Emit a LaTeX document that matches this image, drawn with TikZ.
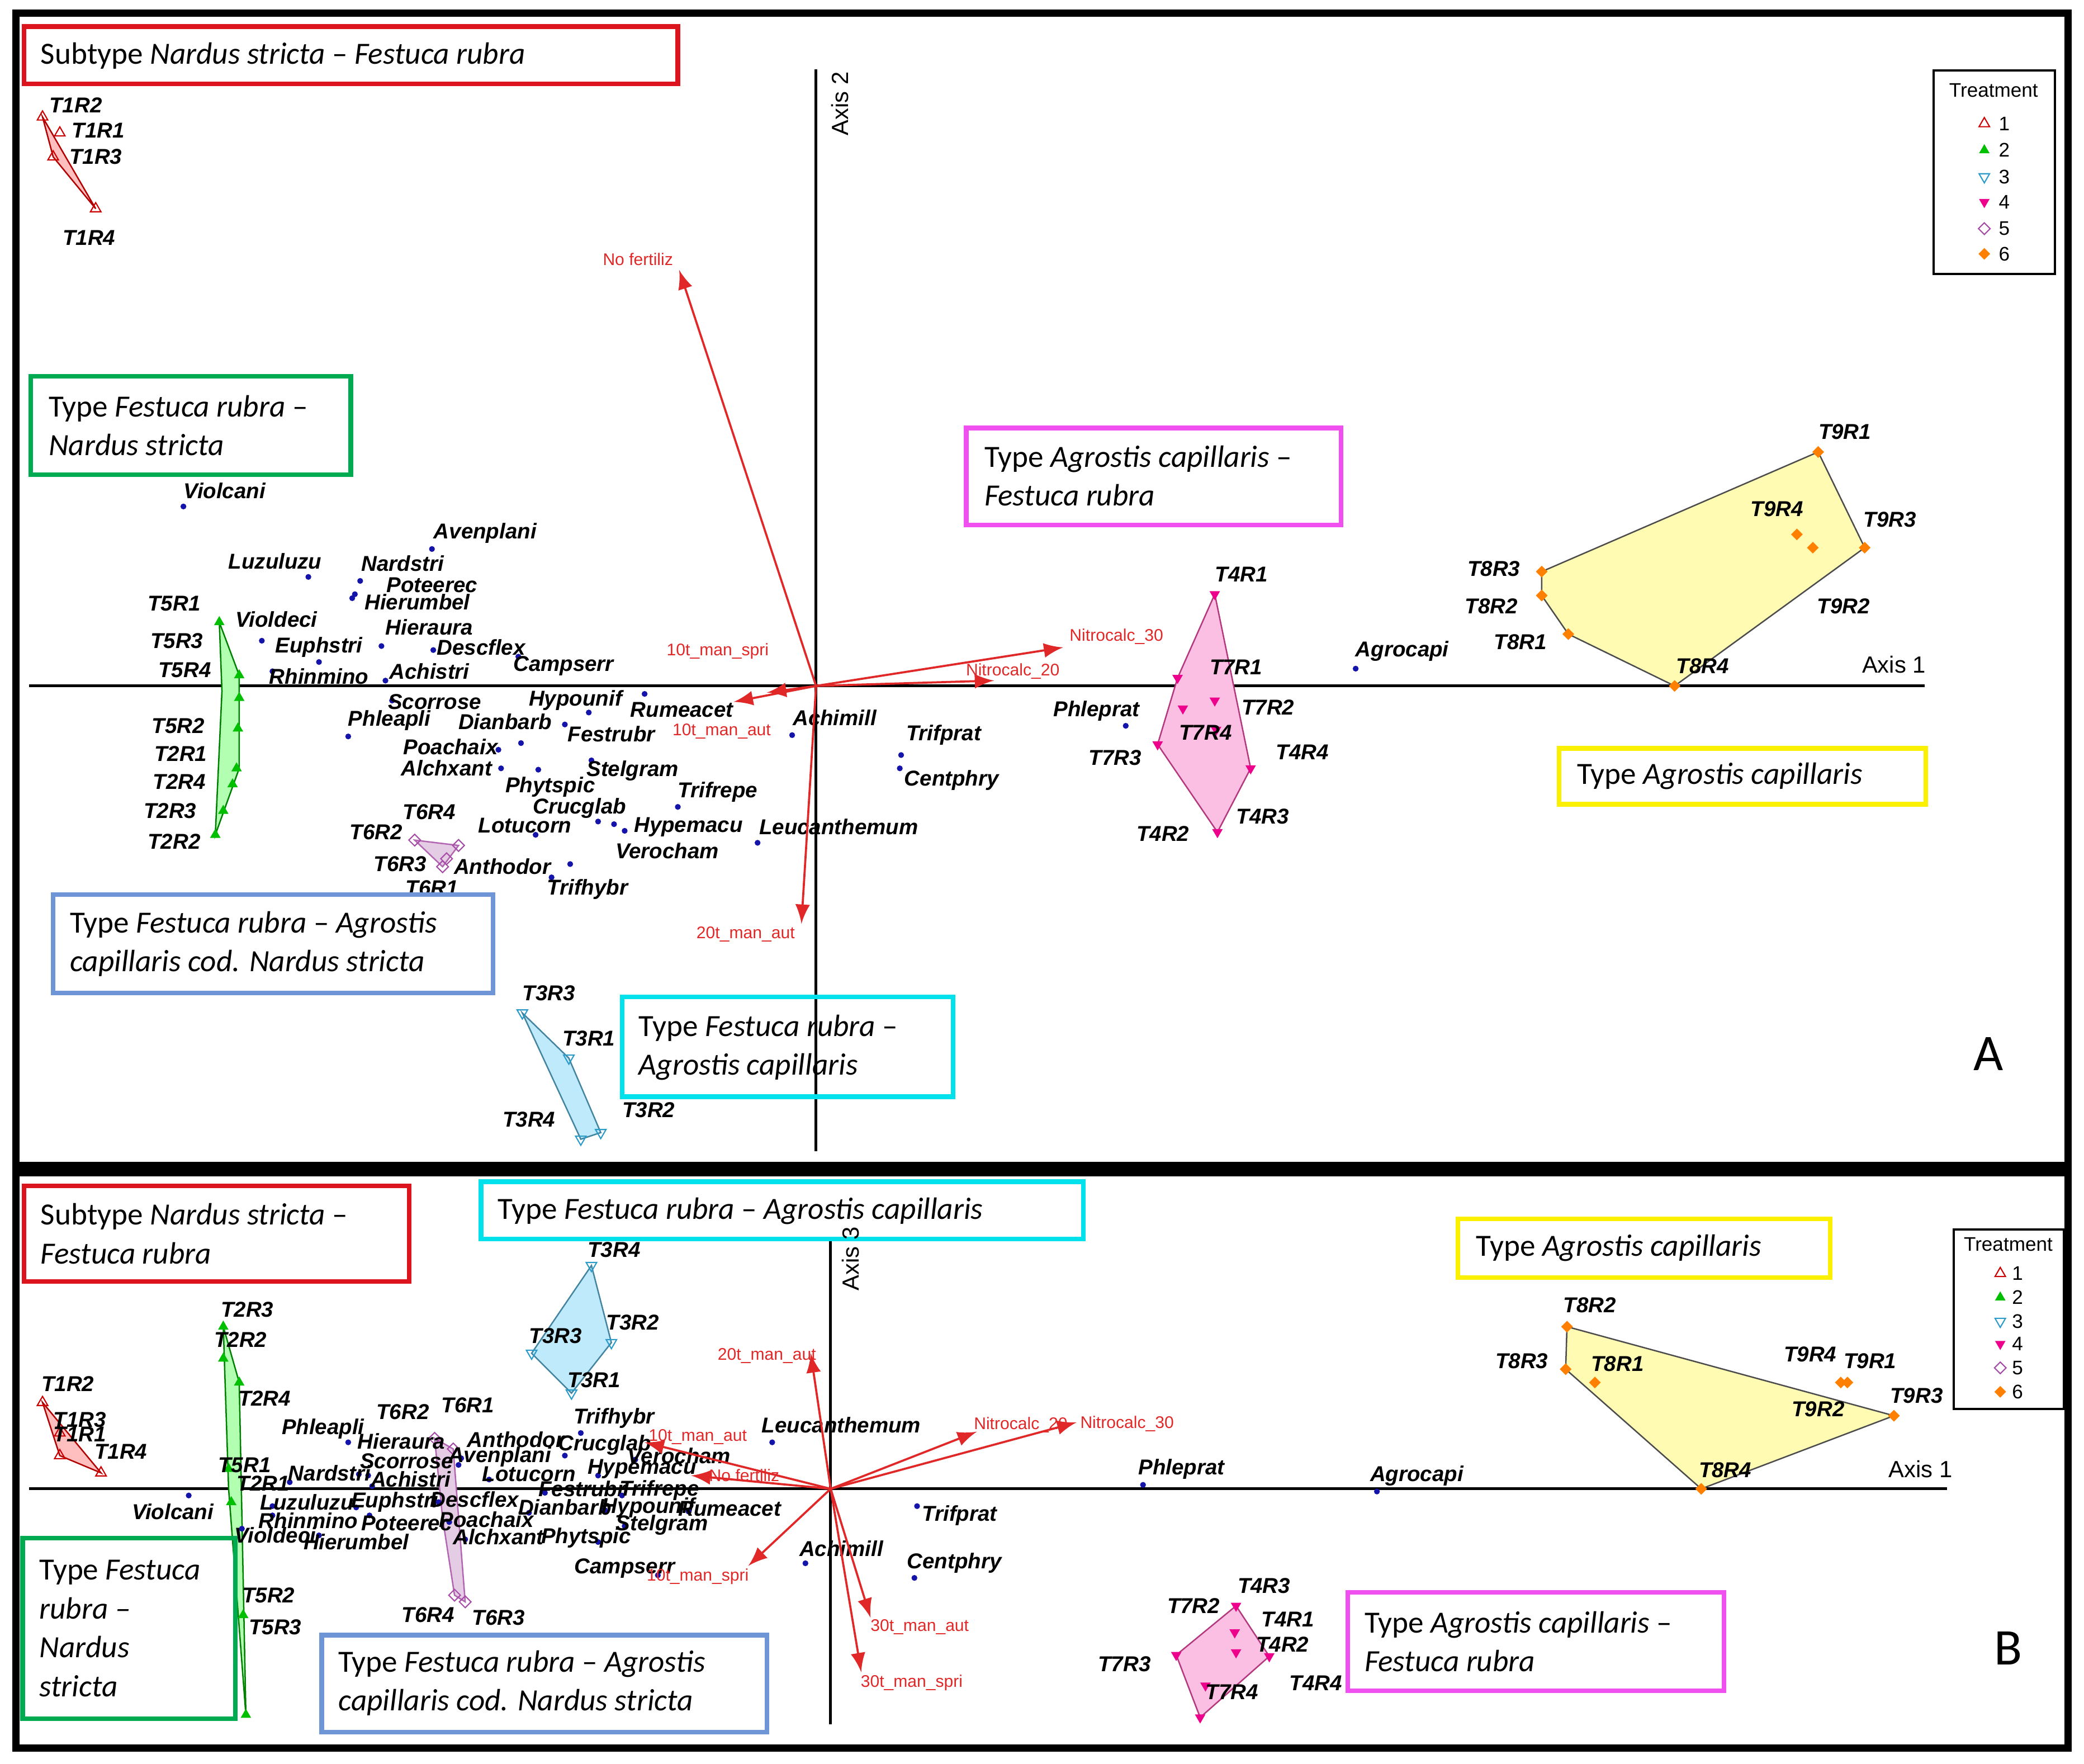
\documentclass[tikz,border=0pt]{standalone}
\usepackage{fontspec}
\setmainfont{Carlito}
\setsansfont{Liberation Sans}
\usetikzlibrary{shapes.geometric}
\definecolor{boxred}{RGB}{220,20,30}
\definecolor{boxgreen}{RGB}{0,170,80}
\definecolor{boxmag}{RGB}{240,80,240}
\definecolor{boxyel}{RGB}{250,240,0}
\definecolor{boxblue}{RGB}{110,150,215}
\definecolor{boxcyan}{RGB}{0,225,235}
\definecolor{dotblue}{RGB}{20,20,170}
\definecolor{vecred}{RGB}{225,40,40}
\tikzset{
  sp/.style={font=\sffamily\bfseries\itshape\fontsize{4.6}{5}\selectfont, inner sep=0.5pt},
  vl/.style={font=\sffamily\fontsize{3.6}{4}\selectfont, text=vecred, inner sep=0.5pt},
  arr/.style={vecred, line width=0.45pt, -latex},
  tbox/.style={line width=1pt, fill=white, draw=#1},
  btxt/.style={font=\fontsize{6.6}{8.3}\selectfont, align=left, anchor=west, inner sep=0},
  mk/.style={inner sep=0, minimum size=2.6pt, line width=0.25pt},
  m1/.style={mk, regular polygon, regular polygon sides=3, draw=red!80!black},
  m2/.style={mk, regular polygon, regular polygon sides=3, fill=green!75!black},
  m3/.style={mk, regular polygon, regular polygon sides=3, shape border rotate=180, draw=cyan!80!black},
  m4/.style={mk, regular polygon, regular polygon sides=3, shape border rotate=180, fill=magenta},
  m5/.style={mk, diamond, draw=violet!70},
  m6/.style={mk, diamond, fill=orange},
  leg/.style={font=\sffamily\fontsize{4.2}{5}\selectfont, inner sep=0.3pt},
}
\begin{document}
\begin{tikzpicture}[x=0.01cm, y=-0.01cm]
\useasboundingbox (0,0) rectangle (1568,1327);

% panel frames
\draw[line width=1.6pt] (12,10) rectangle (1556,877);
\draw[line width=1.6pt] (12,882) rectangle (1556,1315);

% ---------------- panel A ----------------
\coordinate (oA) at (614,516);
\draw[line width=0.6pt] (22,516) -- (1448,516);
\draw[line width=0.6pt] (614,52) -- (614,866);
\node[leg, rotate=90, font=\sffamily\fontsize{5}{6}\selectfont] (ax2) at (632,78) {Axis 2};
\node[leg, font=\sffamily\fontsize{5}{6}\selectfont] (ax1a) at (1425,500) {Axis 1};

% groups
\filldraw[fill=red!25, draw=red!70!black, line width=0.3pt] (32,88) -- (40,118) -- (72,157) -- cycle;
\foreach \p [count=\i] in {(32,88),(45,100),(40,118),(72,157)} \node[m1] (a1-\i) at \p {};
\filldraw[fill=green!30, draw=green!50!black, line width=0.3pt] (165,468) -- (180,508) -- (180,578) -- (162,628) -- (167,520) -- cycle;
\foreach \p [count=\i] in {(165,468),(180,508),(180,525),(179,548),(178,578),(175,590),(168,610),(162,628)} \node[m2] (a2-\i) at \p {};
\filldraw[fill=violet!20, draw=violet!60, line width=0.3pt] (312,632) -- (345,636) -- (333,652) -- cycle;
\foreach \p [count=\i] in {(312,632),(345,636),(333,652),(336,646)} \node[m5] (a5-\i) at \p {};
\filldraw[fill=cyan!25, draw=cyan!60!black, line width=0.3pt] (393,762) -- (428,796) -- (452,852) -- (437,857) -- cycle;
\foreach \p [count=\i] in {(393,762),(428,796),(452,852),(437,857)} \node[m3] (a3-\i) at \p {};
\filldraw[fill=magenta!25, draw=magenta!70!black, line width=0.3pt] (914,447) -- (941,578) -- (916,626) -- (871,560) -- (886,510) -- cycle;
\foreach \p [count=\i] in {(914,447),(886,510),(914,527),(890,533),(941,578),(916,626),(871,560),(915,549)} \node[m4] (a4-\i) at \p {};
\filldraw[fill=yellow!30, draw=black!70, line width=0.3pt] (1368,340) -- (1403,412) -- (1260,516) -- (1180,477) -- (1160,448) -- (1160,430) -- cycle;
\foreach \p [count=\i] in {(1368,340),(1403,412),(1260,516),(1180,477),(1160,448),(1160,430),(1352,402),(1364,412)} \node[m6] (a6-\i) at \p {};

\foreach \t/\x/\y in {T1R2/57/79, T1R1/74/98, T1R3/72/118, T1R4/67/179,
  T5R1/131/454, T5R3/133/482, T5R4/139/504, T5R2/134/546, T2R1/136/567, T2R4/135/588, T2R3/128/610, T2R2/131/633,
  T6R4/323/611, T6R2/283/626, T6R3/301/650, T6R1/325/668,
  T3R3/413/747, T3R1/443/781, T3R4/398/842, T3R2/488/835,
  T4R1/934/432, T7R1/930/502, T7R2/954/532, T7R4/907/551, T4R4/980/566, T7R3/839/570, T4R3/950/614, T4R2/875/627,
  T9R1/1388/325, T9R4/1337/383, T9R3/1422/391, T9R2/1387/456, T8R3/1124/428, T8R2/1122/456, T8R1/1144/483, T8R4/1281/501}
  \node[sp] (a-\t) at (\x,\y) {\t};

% species
\foreach \t/\x/\y/\dx/\dy in {Violcani/169/369/138/381, Avenplani/365/401/325/413, Luzuluzu/207/422/232/434,
  Nardstri/303/424/271/437, Poteerec/325/440/267/447, Hierumbel/314/453/265/450, Violdeci/208/466/197/482,
  Hieraura/323/472/287/486, Euphstri/240/487/240/498, Descflex/362/487/326/489, Achistri/323/505/290/512,
  Rhinmino/240/509/205/505, Campserr/424/501/390/494, Scorrose/327/528/295/527, Hypounif/433/527/443/536,
  Rumeacet/513/534/485/522, Phleapli/293/542/262/554, Dianbarb/380/543/392/559, Festrubr/460/552/425/545,
  Achimill/628/540/596/553, Trifprat/710/553/678/568, Poachaix/339/562/375/564, Alchxant/336/578/377/578,
  Stelgram/476/580/445/572, Centphry/716/587/677/578, Phytspic/414/592/405/579, Trifrepe/540/596/510/607,
  Crucglab/436/608/450/618, Lotucorn/395/621/403/628, Hypemacu/518/622/470/625, Leucanthemum/631/622/570/634,
  Verocham/502/640/462/620, Anthodor/378/652/429/650, Trifhybr/442/669/415/660, Phleprat/825/535/847/546,
  Agrocapi/1055/490/1020/503}
  { \fill[dotblue] (\dx,\dy) circle (2.2); \node[sp] (sa-\t) at (\x,\y) {\t}; }

% vectors
\foreach \n/\x/\y in {nofA/511/203, spriA/552/528, autA/577/521, n30A/800/487, n20A/748/512, m20A/603/695}
  { \coordinate (\n) at (\x,\y); \draw[arr] (oA) -- (\n); }
\node[vl] (l-nofA) at (480,195) {No fertiliz};
\node[vl] (l-spriA) at (540,490) {10t\_man\_spri};
\node[vl] (l-autA) at (543,550) {10t\_man\_aut};
\node[vl] (l-n30A) at (840,479) {Nitrocalc\_30};
\node[vl] (l-n20A) at (762,505) {Nitrocalc\_20};
\node[vl] (l-m20A) at (561,703) {20t\_man\_aut};

% boxes A
\draw[tbox=boxred] (18,20) rectangle (510,63);
\node[btxt] (bA1) at (30,42) {Subtype \textit{Nardus stricta} – \textit{Festuca rubra}};
\draw[tbox=boxgreen] (23,283) rectangle (264,357);
\node[btxt] (bA2) at (36,320) {Type \textit{Festuca rubra} –\\\textit{Nardus stricta}};
\draw[tbox=boxmag] (727,322) rectangle (1009,395);
\node[btxt] (bA3) at (740,358) {Type \textit{Agrostis capillaris} –\\\textit{Festuca rubra}};
\draw[tbox=boxyel] (1173,563) rectangle (1449,605);
\node[btxt] (bA4) at (1186,584) {Type \textit{Agrostis capillaris}};
\draw[tbox=boxblue] (40,673) rectangle (371,747);
\node[btxt] (bA5) at (52,710) {Type \textit{Festuca rubra} – \textit{Agrostis}\\\textit{capillaris cod. Nardus stricta}};
\draw[line width=1pt, boxcyan] (468,750) rectangle (717,825);
\node[btxt] (bA6) at (480,788) {Type \textit{Festuca rubra} –\\\textit{Agrostis capillaris}};
\node[font=\fontsize{11}{12}\selectfont] (lblA) at (1496,793) {A};

% legend A
\draw[line width=0.5pt] (1455,53) rectangle (1546,206);
\node[leg] (tA) at (1500,68) {Treatment};
\foreach \m/\y [count=\i] in {m1/93, m2/113, m3/133, m4/152, m5/172, m6/191}
  { \node[\m] (ka\i) at (1493,\y) {}; \node[leg] (na\i) at (1508,\y) {\i}; }

% ---------------- panel B ----------------
\coordinate (oB) at (625,1120);
\draw[line width=0.6pt] (22,1120) -- (1465,1120);
\draw[line width=0.6pt] (625,925) -- (625,1297);

\filldraw[fill=red!25, draw=red!70!black, line width=0.3pt] (32,1055) -- (76,1108) -- (45,1095) -- cycle;
\foreach \p [count=\i] in {(32,1055),(45,1078),(76,1108),(45,1095)} \node[m1] (b1-\i) at \p {};
\filldraw[fill=green!30, draw=green!50!black, line width=0.3pt] (168,998) -- (180,1040) -- (185,1290) -- (172,1120) -- cycle;
\foreach \p [count=\i] in {(168,998),(168,1022),(180,1040),(172,1105),(174,1130),(183,1215),(185,1290)} \node[m2] (b2-\i) at \p {};
\filldraw[fill=violet!20, draw=violet!60, line width=0.3pt] (327,1082) -- (341,1090) -- (350,1205) -- (342,1200) -- (333,1142) -- cycle;
\foreach \p [count=\i] in {(327,1082),(341,1090),(350,1205),(342,1200)} \node[m5] (b5-\i) at \p {};
\filldraw[fill=cyan!25, draw=cyan!60!black, line width=0.3pt] (445,952) -- (460,1010) -- (430,1048) -- (400,1018) -- cycle;
\foreach \p [count=\i] in {(445,952),(460,1010),(430,1048),(400,1018)} \node[m3] (b3-\i) at \p {};
\filldraw[fill=magenta!25, draw=magenta!70!black, line width=0.3pt] (930,1208) -- (955,1246) -- (903,1292) -- (885,1245) -- cycle;
\foreach \p [count=\i] in {(930,1208),(955,1246),(903,1292),(885,1245),(929,1228),(930,1243),(907,1268)} \node[m4] (b4-\i) at \p {};
\filldraw[fill=yellow!30, draw=black!70, line width=0.3pt] (1179,998) -- (1425,1065) -- (1280,1120) -- (1178,1030) -- cycle;
\foreach \p [count=\i] in {(1179,998),(1425,1065),(1280,1120),(1178,1030),(1200,1040),(1385,1040),(1390,1040)} \node[m6] (b6-\i) at \p {};

\foreach \t/\x/\y in {T1R2/51/1041, T1R3/60/1068, T1R1/60/1079, T1R4/91/1092,
  T2R3/186/985, T2R2/181/1008, T2R4/199/1052, T5R1/184/1102, T2R1/198/1116, T5R2/202/1200, T5R3/207/1224,
  T6R2/303/1062, T6R1/352/1057, T6R4/322/1215, T6R3/375/1217,
  T3R4/462/940, T3R2/476/995, T3R3/418/1005, T3R1/447/1038,
  T7R2/898/1208, T4R3/951/1193, T4R1/969/1218, T4R2/965/1237, T7R3/846/1252, T7R4/927/1273, T4R4/990/1266,
  T8R2/1196/982, T8R3/1145/1024, T8R1/1217/1026, T9R4/1362/1019, T9R1/1407/1024, T9R2/1368/1060, T9R3/1442/1050, T8R4/1298/1106}
  \node[sp] (b-\t) at (\x,\y) {\t};

\foreach \t/\x/\y/\dx/\dy in {Phleapli/243/1075/262/1085, Hieraura/302/1084/270/1109, Anthodor/388/1083/347/1097,
  Crucglab/455/1087/425/1095, Trifhybr/462/1067/437/1078, Leucanthemum/633/1072/581/1085, Scorrose/306/1099/277/1110,
  Avenplani/376/1096/345/1102, Verocham/511/1095/478/1098, Nardstri/248/1108/218/1115, Achistri/309/1113/280/1118,
  Lotucorn/398/1109/368/1113, Hypemacu/483/1105/450/1110, Festrubr/438/1120/410/1123, Trifrepe/496/1121/468/1125,
  Violcani/130/1137/142/1125, Luzuluzu/231/1130/205/1133, Euphstri/297/1130/268/1134, Descflex/357/1128/330/1130,
  Dianbarb/425/1134/398/1138, Hypounif/488/1134/455/1136, Rumeacet/549/1135/518/1137, Rhinmino/232/1144/205/1140,
  Poteerec/306/1146/278/1140, Poachaix/366/1143/338/1145, Stelgram/498/1147/470/1148, Violdeci/207/1155/182/1150,
  Hierumbel/268/1160/240/1155, Alchxant/375/1156/350/1158, Phytspic/441/1157/450/1160, Campserr/470/1180/495/1185,
  Achimill/633/1165/606/1176, Trifprat/722/1140/690/1133, Centphry/718/1176/688/1187, Phleprat/889/1105/860/1117,
  Agrocapi/1066/1110/1036/1122}
  { \fill[dotblue] (\dx,\dy) circle (2.2); \node[sp] (sb-\t) at (\x,\y) {\t}; }

\foreach \n/\x/\y in {m20B/610/1018, autB/485/1085, nofB/520/1110, n20B/735/1077, n30B/810/1070,
  spriB/563/1178, m30aB/655/1217, m30sB/648/1258}
  { \coordinate (\n) at (\x,\y); \draw[arr] (oB) -- (\n); }
\node[vl] (l-m20B) at (577,1020) {20t\_man\_aut};
\node[vl] (l-autB) at (525,1081) {10t\_man\_aut};
\node[vl] (l-nofB) at (560,1110) {No fertiliz};
\node[vl] (l-n20B) at (768,1072) {Nitrocalc\_20};
\node[vl] (l-n30B) at (848,1071) {Nitrocalc\_30};
\node[vl] (l-spriB) at (525,1186) {10t\_man\_spri};
\node[vl] (l-m30aB) at (692,1224) {30t\_man\_aut};
\node[vl] (l-m30sB) at (686,1266) {30t\_man\_spri};

\draw[tbox=boxred] (18,892) rectangle (308,964);
\node[btxt] (bB1) at (30,928) {Subtype \textit{Nardus stricta} –\\\textit{Festuca rubra}};
\draw[tbox=boxcyan] (362,889) rectangle (815,932);
\node[btxt] (bB2) at (374,911) {Type \textit{Festuca rubra} – \textit{Agrostis capillaris}};
\node[leg, rotate=90, font=\sffamily\fontsize{5}{6}\selectfont] (ax3) at (640,947) {Axis 3};
\node[leg, font=\sffamily\fontsize{5}{6}\selectfont] (ax1b) at (1445,1105) {Axis 1};
\draw[tbox=boxyel] (1097,917) rectangle (1377,961);
\node[btxt] (bB3) at (1110,939) {Type \textit{Agrostis capillaris}};
\draw[line width=1pt, boxgreen] (17,1157) rectangle (177,1293);
\node[btxt] (bB4) at (29,1225) {Type \textit{Festuca}\\\textit{rubra –}\\\textit{Nardus}\\\textit{stricta}};
\draw[tbox=boxblue] (242,1230) rectangle (577,1303);
\node[btxt] (bB5) at (254,1266) {Type \textit{Festuca rubra} – \textit{Agrostis}\\\textit{capillaris cod. Nardus stricta}};
\draw[tbox=boxmag] (1014,1198) rectangle (1297,1272);
\node[btxt] (bB6) at (1026,1235) {Type \textit{Agrostis capillaris} –\\\textit{Festuca rubra}};
\node[font=\fontsize{11}{12}\selectfont] (lblB) at (1511,1240) {B};

\draw[line width=0.5pt] (1470,925) rectangle (1553,1060);
\node[leg] (tB) at (1511,936) {Treatment};
\foreach \m/\y [count=\i] in {m1/958, m2/976, m3/994, m4/1011, m5/1029, m6/1047}
  { \node[\m] (kb\i) at (1505,\y) {}; \node[leg] (nb\i) at (1518,\y) {\i}; }
\end{tikzpicture}
\end{document}
